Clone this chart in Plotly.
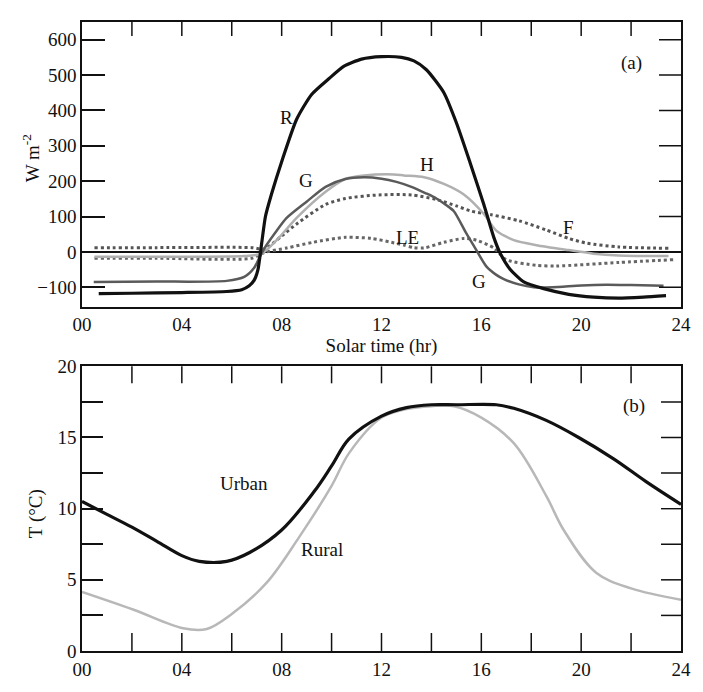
import plotly.graph_objects as go

# ---- (a) surface energy balance components, W m^-2 ----
r_hr = [0.67, 2, 4, 5.8, 6.4, 6.7, 6.9, 7.05, 7.2, 7.35, 7.6, 8.0, 8.6, 9.2, 9.9, 10.5, 11.2, 12.0, 12.8,
        13.3, 13.8, 14.5, 15.0, 15.55, 16.1, 16.5, 16.75, 17.15, 17.7, 18.5, 19.5, 20.5, 21.5, 22.5, 23.4]
r_val = [-118, -117, -115, -112, -107, -96, -80, -50, 25, 100, 165, 255, 375, 445, 490, 525, 545, 552, 550,
         540, 515, 450, 365, 252, 134, 41, -3, -49, -85, -104, -120, -128, -131, -128, -124]

g_hr = [0.47, 3, 5.8, 6.5, 6.9, 7.15, 7.4, 7.8, 8.2, 9.0, 9.76, 10.55, 11.3, 12.0, 12.6, 13.2, 13.8, 14.2,
        14.6, 14.9, 15.4, 15.8, 16.2, 16.6, 16.9, 17.5, 18.1, 18.85, 20.0, 21.0, 22.0, 23.3]
g_val = [-85, -84, -82, -71, -45, -10, 20, 60, 96, 142, 184, 206, 211, 207, 198, 184, 165, 151,
         132, 115, 52, 5, -41, -65, -77, -92, -100, -100, -95, -93, -94, -96]

h_hr = [0.5, 3, 6.5, 7.2, 7.8, 8.6, 9.76, 10.55, 11.3, 12.5, 12.9, 13.7, 14.5, 15.3, 16.1, 16.6, 17.3,
        18.2, 19.5, 20.5, 21.5, 23.5]
h_val = [-14, -14, -12, -5, 33, 96, 170, 206, 216, 219, 216, 211, 192, 162, 107, 60, 33,
         19, 5, -5, -10, -12]

f_hr = [0.5, 3, 6.8, 7.3, 8.0, 8.6, 9.76, 10.55, 11.9, 13.2, 14.2, 15.0, 15.6, 16.4, 17.5, 18.6, 19.5,
        20.2, 21.5, 23.5]
f_val = [12, 12, 12, 8, 45, 79, 134, 151, 161, 161, 148, 130, 115, 105, 88, 62, 38,
         25, 14, 10]

le_hr = [0.5, 3, 6.8, 7.3, 8.2, 9.25, 10.55, 11.6, 12.4, 12.9, 13.3, 13.7, 14.5, 15.3, 15.8, 16.5, 17.0,
         18.2, 19.0, 21.5, 23.7]
le_val = [-18, -18, -18, -2, 11, 27, 41, 38, 27, 19, 12, 11, 27, 38, 33, 11, -22,
          -38, -40, -30, -22]

# ---- (b) air temperature, deg C ----
urban_hr = [0, 1, 2, 3, 4, 4.7, 5.8, 6.7, 8, 9.3, 10, 10.7, 12, 13, 14, 15, 16.6, 17.3, 18.6, 19.9,
            21.3, 22.6, 24]
urban_t = [10.5, 9.6, 8.7, 7.7, 6.7, 6.3, 6.3, 6.9, 8.5, 11.2, 13.0, 14.9, 16.5, 17.1, 17.3, 17.3, 17.3,
           17.05, 16.2, 15.0, 13.5, 11.9, 10.3]

rural_hr = [0, 2.07, 4.05, 5, 6, 7.4, 8.7, 10, 10.7, 12, 13, 14, 14.9, 16, 17.3, 18.6, 19.3, 20.6, 22, 24]
rural_t = [4.15, 2.9, 1.6, 1.55, 2.6, 4.8, 8.0, 11.6, 13.9, 16.4, 17.0, 17.2, 17.2, 16.4, 14.6, 10.9,
           8.5, 5.5, 4.4, 3.6]

hour_ticks = list(range(0, 25, 4))
hour_text = ["%02d" % h for h in hour_ticks]
hour2 = list(range(0, 25, 2))
flux_ticks = list(range(-100, 601, 100))
temp_ticks = [0, 2.5, 5, 7.5, 10, 12.5, 15, 17.5, 20]
temp_text = ["0", "", "5", "", "10", "", "15", "", "20"]

FONT = "Liberation Serif"
BLACK = "#111111"

fig = go.Figure()

def add_line(x, y, color, width, dash="solid", xa="x", ya="y", smooth=0.7):
    fig.add_trace(go.Scatter(x=x, y=y, mode="lines", xaxis=xa, yaxis=ya,
                             line=dict(color=color, width=width, dash=dash,
                                       shape="spline", smoothing=smooth),
                             showlegend=False, hoverinfo="skip"))

add_line(f_hr, f_val, "#555555", 3, "dot")
add_line(le_hr, le_val, "#666666", 3, "dot")
add_line(h_hr, h_val, "#b0b0b0", 2.5)
add_line(g_hr, g_val, "#5a5a5a", 2.5)
add_line(r_hr, r_val, BLACK, 3.2, smooth=0.6)

add_line(rural_hr, rural_t, "#b8b8b8", 2.5, xa="x2", ya="y2", smooth=1.0)
add_line(urban_hr, urban_t, BLACK, 3.2, xa="x2", ya="y2", smooth=1.0)

tick_font = dict(family=FONT, size=19, color=BLACK)
frame = dict(showline=True, mirror=True, linecolor=BLACK, linewidth=1.5,
             showgrid=False, tickcolor=BLACK, tickwidth=1.5, tickfont=tick_font)

TOP = [0.5474, 1.0]
BOT = [0.0, 0.4526]

fig.update_layout(
    width=703, height=692,
    margin=dict(l=82, r=14, t=14, b=24),
    paper_bgcolor="white", plot_bgcolor="white",
    font=dict(family=FONT, color=BLACK),
    # panel (a)
    xaxis=dict(domain=[0, 1], anchor="y", range=[0, 24], tickvals=hour_ticks, ticktext=hour_text,
               ticks="", zeroline=False,
               title=dict(text="Solar time (hr)", font=dict(family=FONT, size=19), standoff=2), **frame),
    yaxis=dict(domain=TOP, anchor="x", range=[-155, 650], tickvals=flux_ticks, ticks="inside",
               ticklen=23, zeroline=True, zerolinecolor=BLACK, zerolinewidth=1.5, **frame),
    # panel (b)
    xaxis2=dict(domain=[0, 1], anchor="y2", range=[0, 24], tickvals=hour_ticks, ticktext=hour_text,
                ticks="", zeroline=False, **frame),
    yaxis2=dict(domain=BOT, anchor="x2", range=[0, 20], tickvals=temp_ticks, ticktext=temp_text,
                ticks="inside", ticklen=21, zeroline=False, **frame),
)

# inward tick marks along the top, bottom and right frame edges, fixed pixel length
tick_line = dict(color=BLACK, width=1.5)

def top_ticks(xref, yref, length):
    for h in hour2[1:-1]:
        fig.add_shape(type="line", xref=xref, yref=yref + " domain", x0=h, x1=h,
                      ysizemode="pixel", yanchor=1, y0=0, y1=-length, line=tick_line)

def bottom_ticks(xref, yref, length):
    for h in hour2[1:-1]:
        fig.add_shape(type="line", xref=xref, yref=yref + " domain", x0=h, x1=h,
                      ysizemode="pixel", yanchor=0, y0=0, y1=length, line=tick_line)

def right_ticks(xref, yref, values, length):
    for v in values:
        fig.add_shape(type="line", xref=xref + " domain", yref=yref, y0=v, y1=v,
                      xsizemode="pixel", xanchor=1, x0=0, x1=-length, line=tick_line)

top_ticks("x", "y", 14)
right_ticks("x", "y", flux_ticks, 22)
top_ticks("x2", "y2", 17)
bottom_ticks("x2", "y2", 18)
right_ticks("x2", "y2", temp_ticks[1:-1], 20)

lab = dict(family=FONT, size=19, color=BLACK)
notes = [
    ("R", 8.18, 381, "x", "y"), ("G", 8.97, 203, "x", "y"), ("H", 13.83, 247, "x", "y"),
    ("LE", 13.04, 41, "x", "y"), ("F", 19.5, 68, "x", "y"), ("G", 15.9, -85, "x", "y"),
    ("(a)", 22.0, 534, "x", "y"),
    ("Urban", 6.5, 11.75, "x2", "y2"), ("Rural", 9.6, 7.1, "x2", "y2"), ("(b)", 22.1, 17.2, "x2", "y2"),
]
for txt, x, y, xr, yr in notes:
    fig.add_annotation(text=txt, x=x, y=y, xref=xr, yref=yr, showarrow=False, font=lab)

fig.add_annotation(text="W m<sup>-2</sup>", x=-0.086, y=0.784, xref="paper", yref="paper",
                   xanchor="center", yanchor="middle", textangle=-90, showarrow=False, font=lab)
fig.add_annotation(text="T (°C)", x=-0.077, y=0.219, xref="paper", yref="paper",
                   xanchor="center", yanchor="middle", textangle=-90, showarrow=False, font=lab)

fig.write_html("out.html")
